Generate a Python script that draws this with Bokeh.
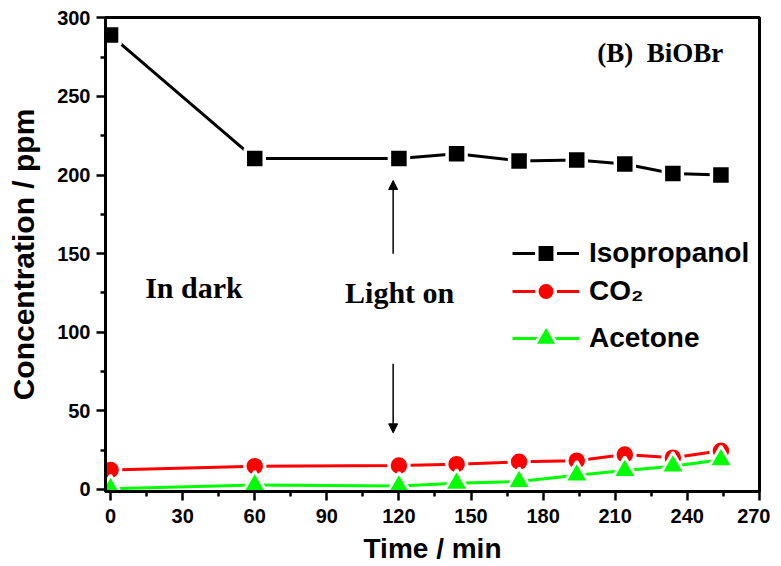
from bokeh.plotting import figure
from bokeh.models import Range1d, FixedTicker, Legend, LegendItem, Arrow, NormalHead, Label
from bokeh.embed import file_html
from bokeh.resources import INLINE

# ---- data ----
time_min = [0, 60, 120, 144, 170, 194, 214, 234, 254]
isopropanol = [289, 210.5, 210.5, 213.5, 209, 209.5, 207, 201, 200]
co2 = [12.4, 14.8, 15.2, 16.1, 17.6, 18.3, 22.2, 20.2, 24.6]
acetone = [0.4, 2.8, 2.2, 3.9, 5.0, 9.1, 12.0, 14.8, 18.9]

x_ticks = [0, 30, 60, 90, 120, 150, 180, 210, 240, 270]
x_minor = [15, 45, 75, 105, 135, 165, 195, 225, 255]
y_ticks = [0, 50, 100, 150, 200, 250, 300]
y_minor = [25, 75, 125, 175, 225, 275]

series_names = ["Isopropanol", "CO\u2082", "Acetone"]
annot_texts = ["(B)\u00a0 BiOBr", "In dark", "Light on"]

SANS = "Liberation Sans"
SERIF = "Liberation Serif"

p = figure(width=770, height=566, output_backend="svg", toolbar_location=None,
           x_range=Range1d(-2.1, 270.05), y_range=Range1d(-1.3, 300.2),
           min_border_left=105, min_border_right=11, min_border_top=17, min_border_bottom=75)

p.grid.visible = False
p.outline_line_color = "black"
p.outline_line_width = 3
p.background_fill_color = "white"

for ax in (p.xaxis[0], p.yaxis[0]):
    ax.axis_line_width = 3
    ax.major_tick_line_width = 2.5
    ax.minor_tick_line_width = 2.5
    ax.major_tick_in = 0
    ax.major_tick_out = 9
    ax.minor_tick_in = 0
    ax.minor_tick_out = 5
    ax.major_label_text_font = SANS
    ax.major_label_text_font_style = "bold"
    ax.major_label_text_font_size = "20px"
    ax.major_label_text_color = "black"
    ax.axis_label_text_font = SANS
    ax.axis_label_text_font_style = "bold"
    ax.axis_label_text_color = "black"

p.xaxis.ticker = FixedTicker(ticks=x_ticks, minor_ticks=x_minor)
p.yaxis.ticker = FixedTicker(ticks=y_ticks, minor_ticks=y_minor)
p.xaxis.axis_label = "Time / min"
p.yaxis.axis_label = "Concentration / ppm"
p.xaxis.axis_label_text_font_size = "28px"
p.yaxis.axis_label_text_font_size = "30px"
p.xaxis.major_label_standoff = 8
p.yaxis.major_label_standoff = 6
p.xaxis.axis_label_standoff = 7
p.yaxis.axis_label_standoff = 14

# ---- series ----
l1 = p.line(time_min, isopropanol, line_color="black", line_width=3)
m1 = p.scatter(time_min, isopropanol, marker="square", size=19, fill_color="black",
               line_color="white", line_width=3.5)
l2 = p.line(time_min, co2, line_color="#ff0000", line_width=3)
m2 = p.scatter(time_min, co2, marker="circle", size=20, fill_color="#ff0000",
               line_color="white", line_width=3.5)
l3 = p.line(time_min, acetone, line_color="#00ff00", line_width=3)
m3 = p.scatter(time_min, acetone, marker="triangle", size=24, fill_color="#00ff00",
               line_color="white", line_width=3)

# one legend box per row, so each row can sit where the reference has it
rows = [([l1, m1], 215, 46), ([l2, m2], 177, 46), ([l3, m3], 124, 58)]
for name, (rends, ypos, gh) in zip(series_names, rows):
    lg = Legend(items=[LegendItem(label=name, renderers=rends)], location=(407, ypos))
    lg.glyph_width = 67
    lg.glyph_height = gh
    lg.label_height = 42
    lg.spacing = 0
    lg.padding = 0
    lg.margin = 0
    lg.label_standoff = 10
    lg.border_line_color = None
    lg.background_fill_alpha = 0
    lg.label_text_font = SANS
    lg.label_text_font_style = "bold"
    lg.label_text_font_size = "28px"
    lg.label_text_color = "black"
    p.add_layout(lg)

# ---- annotations ----
p.add_layout(Label(x=255, y=277.5, text=annot_texts[0], text_align="right",
                   text_baseline="alphabetic", text_font=SERIF, text_font_style="bold",
                   text_font_size="27px", text_color="black"))
p.add_layout(Label(x=14.4, y=128.5, text=annot_texts[1], text_align="left",
                   text_baseline="alphabetic", text_font=SERIF, text_font_style="bold",
                   text_font_size="30px", text_color="black"))
p.add_layout(Label(x=97.6, y=125, text=annot_texts[2], text_align="left",
                   text_baseline="alphabetic", text_font=SERIF, text_font_style="bold",
                   text_font_size="30px", text_color="black"))

p.add_layout(Arrow(end=NormalHead(size=9, fill_color="black", line_color="black", line_width=1),
                   x_start=117.6, y_start=150, x_end=117.6, y_end=196.5,
                   line_color="black", line_width=1.5))
p.add_layout(Arrow(end=NormalHead(size=9, fill_color="black", line_color="black", line_width=1),
                   x_start=117.6, y_start=80, x_end=117.6, y_end=36,
                   line_color="black", line_width=1.5))

open("out.html", "w").write(file_html(p, INLINE))
